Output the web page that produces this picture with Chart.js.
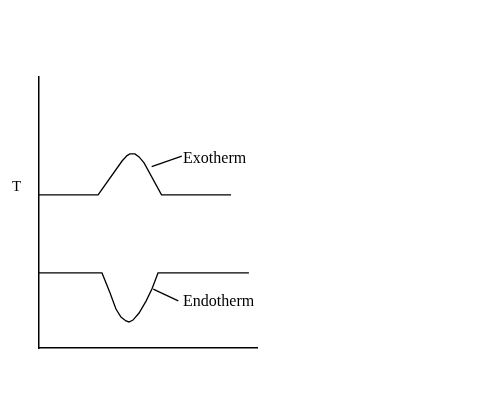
<!DOCTYPE html>
<html>
<head>
<meta charset="utf-8">
<script src="https://cdn.jsdelivr.net/npm/chart.js@4/dist/chart.umd.min.js"></script>
<style>
  html, body { margin: 0; padding: 0; background: #fff; }
  #dsc { display: block; }
</style>
</head>
<body>
<canvas id="dsc" width="483" height="416"></canvas>
<script>
// time (arbitrary units) vs temperature (arbitrary units)
const exoTime = [0, 2.71, 3.81, 4.04, 4.17, 4.40, 4.59, 4.82, 5.62, 8.81];
const exoTemp = [5.65, 5.65, 6.90, 7.10, 7.16, 7.16, 7.05, 6.83, 5.65, 5.65];

const endoTime = [0, 2.89, 3.26, 3.53, 3.76, 3.99, 4.13, 4.31, 4.59, 4.91, 5.18, 5.46, 9.63];
const endoTemp = [2.77, 2.77, 2.03, 1.44, 1.14, 1.00, 0.96, 1.03, 1.29, 1.73, 2.18, 2.77, 2.77];

// leader lines pointing at the labels
const exoLeaderTime = [5.17, 6.55];
const exoLeaderTemp = [6.69, 7.08];
const endoLeaderTime = [5.24, 6.39];
const endoLeaderTemp = [2.17, 1.74];

const labelNames = ["Exotherm", "Endotherm"];
const labelTime = [6.61, 6.61];
const labelTemp = [6.97, 1.72];
const yAxisLabel = "T";

const toPoints = (xs, ys) => xs.map((x, i) => ({ x: x, y: ys[i] }));

const lineStyle = {
    borderColor: "#000",
    borderWidth: 1.3,
    pointRadius: 0,
    tension: 0,
    fill: false,
};

const textPlugin = {
    id: "curveLabels",
    afterDatasetsDraw(chart) {
        const { ctx, scales, chartArea } = chart;
        ctx.save();
        ctx.fillStyle = "#000";
        ctx.font = '16px "Liberation Serif", serif';
        ctx.textBaseline = "middle";
        ctx.textAlign = "left";
        labelNames.forEach((name, i) => {
            ctx.fillText(name, scales.x.getPixelForValue(labelTime[i]), scales.y.getPixelForValue(labelTemp[i]));
        });
        ctx.font = '15px "Liberation Serif", serif';
        ctx.fillText(yAxisLabel, chartArea.left - 27, scales.y.getPixelForValue(5.93));
        ctx.restore();
    },
};

new Chart(document.getElementById("dsc"), {
    type: "line",
    data: {
        datasets: [
            { ...lineStyle, label: "Exotherm", data: toPoints(exoTime, exoTemp) },
            { ...lineStyle, label: "Endotherm", data: toPoints(endoTime, endoTemp) },
            { ...lineStyle, label: "exo leader", data: toPoints(exoLeaderTime, exoLeaderTemp) },
            { ...lineStyle, label: "endo leader", data: toPoints(endoLeaderTime, endoLeaderTemp) },
        ],
    },
    options: {
        responsive: false,
        animation: false,
        layout: { padding: { left: 39, top: 77, right: 226, bottom: 68 } },
        plugins: { legend: { display: false }, tooltip: { enabled: false } },
        scales: {
            x: {
                type: "linear",
                min: 0,
                max: 10,
                grid: { display: false, drawTicks: false },
                border: { display: true, color: "#000", width: 1.5 },
                ticks: { display: false },
            },
            y: {
                type: "linear",
                min: 0,
                max: 10,
                grid: { display: false, drawTicks: false },
                border: { display: true, color: "#000", width: 1.5 },
                ticks: { display: false },
            },
        },
    },
    plugins: [textPlugin],
});
</script>
</body>
</html>
